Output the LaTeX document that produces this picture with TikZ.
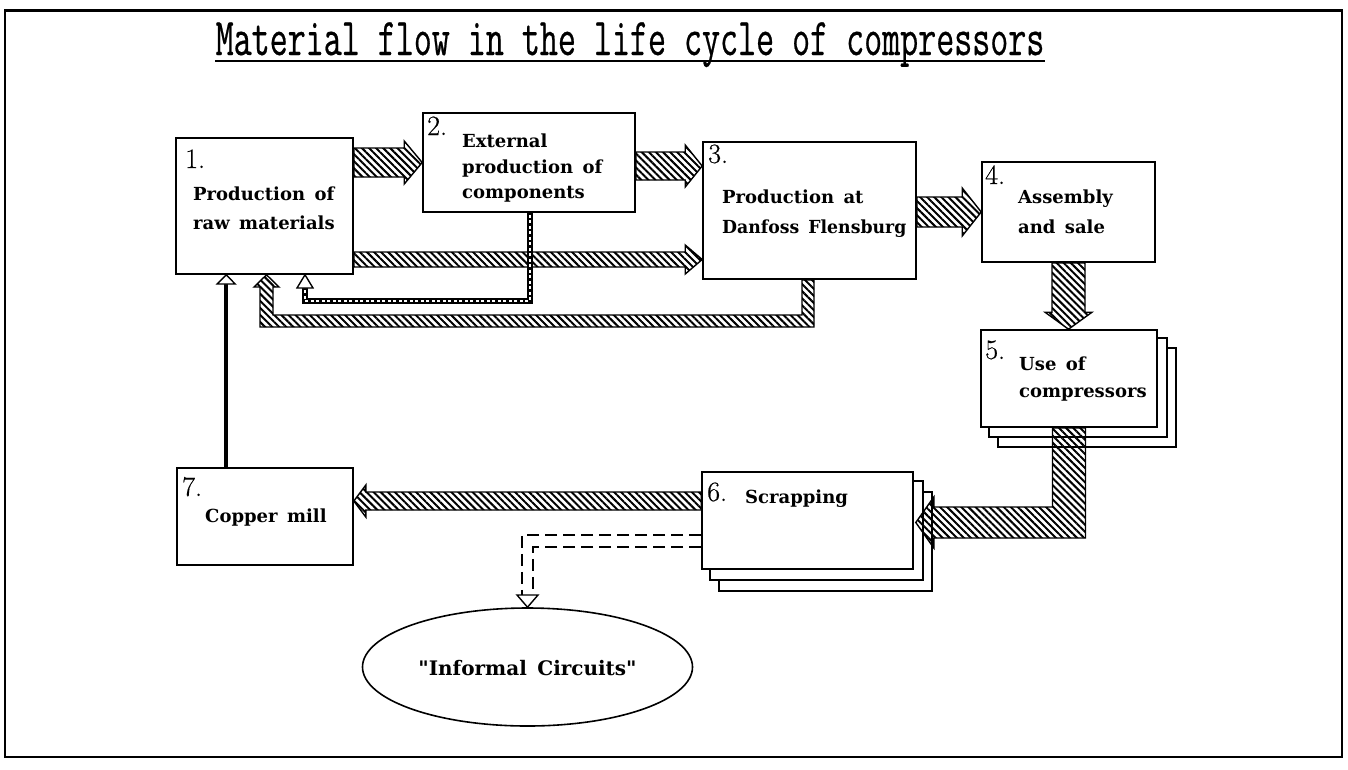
\documentclass[tikz,border=0pt]{standalone}
\usepackage{fontspec}
\usepackage{graphicx}
\newfontfamily\bx{DejaVu Serif}[WordSpace=1.5]
\newfontfamily\ttl{Latin Modern Mono}[FakeBold=0.6]
\newfontfamily\nm{Latin Modern Roman}[FakeBold=0.5]
\usetikzlibrary{calc,patterns.meta,shapes.geometric,backgrounds}
\tikzset{
  box/.style={draw, line width=1.6pt, fill=white, inner sep=0pt},
  hatch/.style={draw, line width=1.4pt, line join=miter,
    pattern={Lines[angle=-45,distance=5pt,line width=2pt]}},
  num/.style={font=\nm\fontsize{28}{28}\selectfont, inner sep=0pt, anchor=base west},
  txt/.style={font=\bx\bfseries\fontsize{18}{18}\selectfont, inner sep=0pt, anchor=base west},
  shadowbox/.style={draw, line width=1.6pt, fill=white},
  headw/.style={draw, fill=white, line width=1.4pt, line join=miter},
}
\begin{document}
\begin{tikzpicture}[x=1pt,y=1pt]
\useasboundingbox (0,0) rectangle (1348,-769);
\draw[line width=2pt] (5,-10) rectangle (1342,-757);
\draw[line width=3pt] (5,-10) -- (1342,-10);

% title
\node[anchor=base, inner sep=0pt] (title) at (630,-55)
  {\scalebox{0.66}[1]{\ttl\fontsize{53}{53}\selectfont Material flow in the life cycle of compressors}};
\draw[line width=2pt] ($(title.base west)+(0,-6)$) -- ($(title.base east)+(0,-6)$);

% boxes
\node[box, minimum width=177pt, minimum height=136pt] (b1) at (264.5,-206) {};
\node[box, minimum width=212pt, minimum height=99pt] (b2) at (529,-162.5) {};
\node[box, minimum width=213pt, minimum height=137pt] (b3) at (809.5,-210.5) {};
\node[box, minimum width=173pt, minimum height=100pt] (b4) at (1068.5,-212) {};
\node[box, minimum width=176pt, minimum height=97pt] (b5) at (1069,-378.5) {};
\node[box, minimum width=211pt, minimum height=97pt] (b6) at (807.5,-520.5) {};
\node[box, minimum width=176pt, minimum height=97pt] (b7) at (265,-516.5) {};
\node[draw, ellipse, line width=1.6pt, minimum width=330pt, minimum height=118pt, inner sep=0pt] (ic) at (527.5,-667) {};

% stacked copies behind 5 and 6
\begin{scope}[on background layer]
  \fill[white] (0,0) rectangle (1348,-769);
  \foreach \n/\dx/\dy in {b5/18/-19, b5/9/-9, b6/18/-21, b6/9/-10}{
    \draw[shadowbox] ($(\n.south west)+(\dx,\dy)$) rectangle ($(\n.north east)+(\dx,\dy)$);
  }
\end{scope}

% texts
\node[num] at (185,-168) {1.};
\node[txt] at (193,-200) {Production of};
\node[txt] at (193,-229) {raw materials};
\node[num] at (427,-135) {2.};
\node[txt] at (462,-147) {External};
\node[txt] at (462,-173) {production of};
\node[txt] at (462,-198) {components};
\node[num] at (708,-163) {3.};
\node[txt] at (722,-203) {Production at};
\node[txt] at (722,-233) {\scalebox{0.96}[1]{Danfoss Flensburg}};
\node[num] at (985,-184) {4.};
\node[txt] at (1018,-203) {Assembly};
\node[txt] at (1018,-233) {and sale};
\node[num] at (985,-359) {5.};
\node[txt] at (1019,-370) {Use of};
\node[txt] at (1019,-397) {compressors};
\node[num] at (707,-501) {6.};
\node[txt] at (745,-503) {Scrapping};
\node[num] at (182,-496) {7.};
\node[txt] at (205,-522) {Copper mill};
\node[txt, anchor=base, font=\bx\bfseries\fontsize{20}{20}\selectfont] at (ic.center |- 0,-675) {"Informal Circuits"};

% hatched block arrows
\path[hatch] let \p1=(b1.east), \p2=(b2.west) in
  (\x1,-148) -- (\x2-18,-148) -- (\x2-18,-141) -- (\x2,-162.5) -- (\x2-18,-184) -- (\x2-18,-177) -- (\x1,-177) -- cycle;
\path[hatch] let \p1=(b2.east), \p2=(b3.west) in
  (\x1,-152) -- (\x2-17,-152) -- (\x2-17,-145) -- (\x2,-166) -- (\x2-17,-187) -- (\x2-17,-180) -- (\x1,-180) -- cycle;
\path[hatch] let \p1=(b1.east), \p2=(b3.west) in
  (\x1,-252) -- (\x2-17,-252) -- (\x2-17,-245) -- (\x2,-259.5) -- (\x2-17,-274) -- (\x2-17,-267) -- (\x1,-267) -- cycle;
\path[hatch] let \p1=(b3.east), \p2=(b4.west) in
  (\x1,-197) -- (\x2-19,-197) -- (\x2-19,-188) -- (\x2,-212) -- (\x2-19,-236) -- (\x2-19,-227) -- (\x1,-227) -- cycle;
\path[hatch] let \p1=(b4.south), \p2=(b5.north) in
  (\x1-16.5,\y1) -- (\x1-16.5,\y2+17) -- (\x1-23.5,\y2+17) -- (\x1,\y2) -- (\x1+23.5,\y2+17) -- (\x1+16.5,\y2+17) -- (\x1+16.5,\y1) -- cycle;
\path[hatch] let \p1=(b5.south), \p2=(b6.east) in
  (\x1-16.5,\y1) -- (\x1-16.5,-507) -- (\x2+20,-507) -- (\x2+20,-497) -- (\x2+2,-522.5) -- (\x2+20,-548) -- (\x2+20,-538) -- (\x1+16.5,-538) -- (\x1+16.5,\y1) -- cycle;
\path[hatch] let \p1=(b6.west), \p2=(b7.east) in
  (\x1,-492) -- (\x2+12,-492) -- (\x2+12,-485) -- (\x2,-501) -- (\x2+12,-517) -- (\x2+12,-510) -- (\x1,-510) -- cycle;
% return 3 -> 1
\path[hatch] let \p1=(b3.south), \p2=(b1.south) in
  (\x1-7.5,\y1) -- (\x1-7.5,-315) -- (\x2+8.5,-315) -- (\x2+8.5,-287) -- (\x2+14.5,-287) -- (\x2+2,\y2)
  -- (\x2-10.5,-287) -- (\x2-4.5,-287) -- (\x2-4.5,-327) -- (\x1+4.5,-327) -- (\x1+4.5,\y1) -- cycle;

% dotted return 2 -> 1
\draw[line width=6pt, line join=miter] let \p1=(b2.south), \p2=(b1.south) in
  (\x1+1,\y1) -- (\x1+1,-301) -- (\x2+40.5,-301) -- (\x2+40.5,-287);
\draw[white, line width=2pt, dash pattern=on 3pt off 2.5pt] let \p1=(b2.south), \p2=(b1.south) in
  (\x1+1,\y1-2) -- (\x1+1,-301) -- (\x2+40.5,-301) -- (\x2+40.5,-289);
\path[headw] let \p1=(b1.south) in (\x1+32.5,-288) -- (\x1+40.5,\y1) -- (\x1+48.5,-288) -- cycle;

% solid return 7 -> 1
\draw[line width=3.5pt] let \p1=(b7.north west), \p2=(b1.south) in (\x1+50,\y1) -- (\x1+50,-284);
\path[headw] let \p1=(b7.north west), \p2=(b1.south) in (\x1+41,-284) -- (\x1+50,\y2) -- (\x1+59,-284) -- cycle;

% dashed 6 -> informal circuits
\draw[line width=2pt, dash pattern=on 12pt off 6pt] let \p1=(b6.west), \p2=(ic.north) in
  (\x1,-535) -- (\x2-5.5,-535) -- (\x2-5.5,-596)
  (\x1,-547) -- (\x2+5.5,-547) -- (\x2+5.5,-596);
\path[headw] let \p1=(ic.north) in (\x1-10.5,-595) -- (\x1,\y1) -- (\x1+10.5,-595) -- cycle;
\end{tikzpicture}
\end{document}
